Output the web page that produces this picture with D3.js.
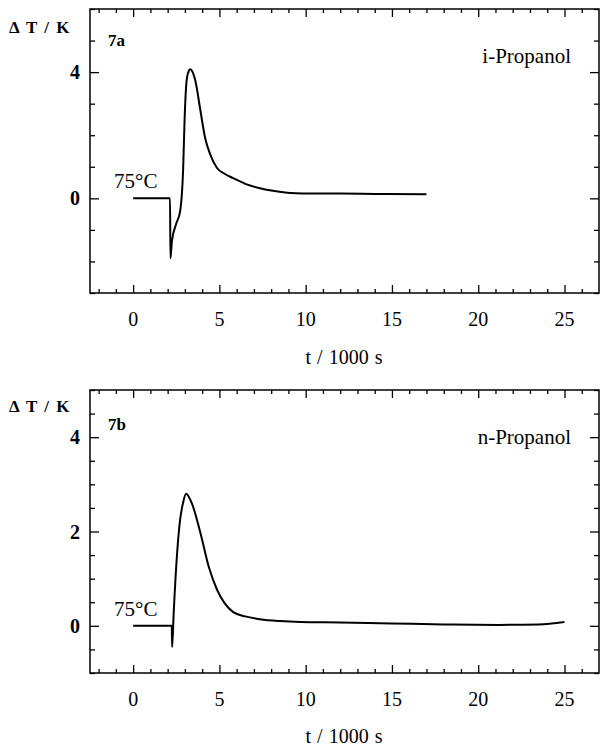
<!DOCTYPE html>
<html>
<head>
<meta charset="utf-8">
<script src="https://cdn.jsdelivr.net/npm/d3@7"></script>
<style>
  body { margin: 0; background: #fff; }
  svg { display: block; }
  .frame { fill: none; stroke: #000; stroke-width: 1.5px; }
  .tick line { stroke: #000; stroke-width: 1.3px; }
  text { font-family: "Liberation Serif", "Times New Roman", serif; fill: #000; }
</style>
</head>
<body>
<div class="content"></div>
<script>
var width = 601, height = 749;

// 7a, i-Propanol (t in 1000 s, dT in K)
var tA  = [0, 2.14, 2.16, 2.25, 2.5, 2.72, 2.9, 2.98, 3.1, 3.2, 3.3, 3.45, 3.6, 3.9, 4.17, 4.46, 4.86, 5.3, 5.8, 6.5, 7.35, 8.2, 9.1, 10.5, 12, 14, 17];
var dTA = [0, 0, -1.9, -1.35, -0.8, -0.42, 0.96, 2.46, 3.74, 4.0, 4.09, 4.0, 3.74, 2.78, 1.92, 1.4, 0.96, 0.78, 0.64, 0.46, 0.32, 0.23, 0.17, 0.15, 0.15, 0.14, 0.13];

// 7b, n-Propanol
var tB  = [0, 2.24, 2.26, 2.35, 2.55, 2.72, 2.9, 3.07, 3.4, 3.9, 4.4, 4.87, 5.3, 5.8, 6.5, 7.35, 8.5, 9.7, 12, 15, 18, 21.2, 23.5, 25];
var dTB = [0, 0, -0.45, 0.27, 1.55, 2.24, 2.62, 2.8, 2.6, 1.97, 1.23, 0.76, 0.48, 0.29, 0.2, 0.14, 0.1, 0.08, 0.07, 0.05, 0.03, 0.02, 0.03, 0.08];

var xTicks = [0, 5, 10, 15, 20, 25];

var panels = [
  { t: tA, dT: dTA, top: 9, bottom: 293, yDomain: [-3, 6], yMajor: [0, 4], yMinorStep: 1,
    tag: "7a", name: "i-Propanol", tagY: 46, nameY: 63, tempY: 188, yTitleY: 33, xLabY: 326, xTitleY: 364 },
  { t: tB, dT: dTB, top: 390, bottom: 673, yDomain: [-1, 5], yMajor: [0, 2, 4], yMinorStep: 0.5,
    tag: "7b", name: "n-Propanol", tagY: 430, nameY: 444, tempY: 616, yTitleY: 412, xLabY: 706, xTitleY: 743 }
];

var svg = d3.select(".content").append("svg")
  .attr("width", width)
  .attr("height", height);

var x = d3.scaleLinear().domain([-2.5, 27]).range([90, 599]);
var xMinor = d3.range(-2, 27, 1).filter(function (v) { return v % 5 !== 0; });

panels.forEach(function (p) {
  var y = d3.scaleLinear().domain(p.yDomain).range([p.bottom, p.top]);
  var yMinor = d3.range(p.yDomain[0], p.yDomain[1] + 0.001, p.yMinorStep)
    .filter(function (v) { return p.yMajor.indexOf(v) < 0; });

  var g = svg.append("g");

  // inward ticks on all four sides
  function ticks(axis, vals, size, tr) {
    g.append("g").attr("transform", tr)
      .call(axis.tickValues(vals).tickSize(size).tickFormat(""))
      .call(function (s) { s.select(".domain").remove(); });
  }
  ticks(d3.axisTop(x), xTicks, 8, "translate(0," + p.bottom + ")");
  ticks(d3.axisTop(x), xMinor, 4, "translate(0," + p.bottom + ")");
  ticks(d3.axisBottom(x), xTicks, 8, "translate(0," + p.top + ")");
  ticks(d3.axisBottom(x), xMinor, 4, "translate(0," + p.top + ")");
  ticks(d3.axisRight(y), p.yMajor, 9, "translate(90,0)");
  ticks(d3.axisRight(y), yMinor, 5, "translate(90,0)");
  ticks(d3.axisLeft(y), p.yMajor, 9, "translate(599,0)");
  ticks(d3.axisLeft(y), yMinor, 5, "translate(599,0)");

  g.append("rect").attr("class", "frame")
    .attr("x", 90).attr("y", p.top)
    .attr("width", 509).attr("height", p.bottom - p.top);

  // tick labels
  g.selectAll(".ylab").data(p.yMajor).enter().append("text")
    .attr("x", 80).attr("y", function (d) { return y(d); })
    .attr("dy", "0.35em").attr("text-anchor", "end")
    .style("font-size", "20px").style("font-weight", "bold")
    .text(function (d) { return d; });

  g.selectAll(".xlab").data(xTicks).enter().append("text")
    .attr("x", function (d) { return x(d); }).attr("y", p.xLabY)
    .attr("text-anchor", "middle")
    .style("font-size", "20px")
    .text(function (d) { return d; });

  g.append("text").attr("x", 344).attr("y", p.xTitleY)
    .attr("text-anchor", "middle").style("font-size", "20px")
    .style("word-spacing", "1px")
    .text("t / 1000 s");

  g.append("text").attr("x", 9).attr("y", p.yTitleY)
    .style("font-size", "17px").style("font-weight", "bold")
    .style("letter-spacing", "1.5px")
    .text("\u0394 T / K");

  g.append("text").attr("x", 108).attr("y", p.tagY)
    .style("font-size", "17px").style("font-weight", "bold").text(p.tag);

  g.append("text").attr("x", 571).attr("y", p.nameY)
    .attr("text-anchor", "end").style("font-size", "21px").text(p.name);

  g.append("text").attr("x", 114).attr("y", p.tempY)
    .style("font-size", "21px").text("75\u00b0C");

  var line = d3.line()
    .x(function (d) { return x(d[0]); })
    .y(function (d) { return y(d[1]); })
    .curve(d3.curveMonotoneX);

  g.append("path")
    .datum(d3.zip(p.t, p.dT))
    .attr("d", line)
    .attr("fill", "none")
    .attr("stroke", "#000")
    .attr("stroke-width", 2);
});
</script>
</body>
</html>
